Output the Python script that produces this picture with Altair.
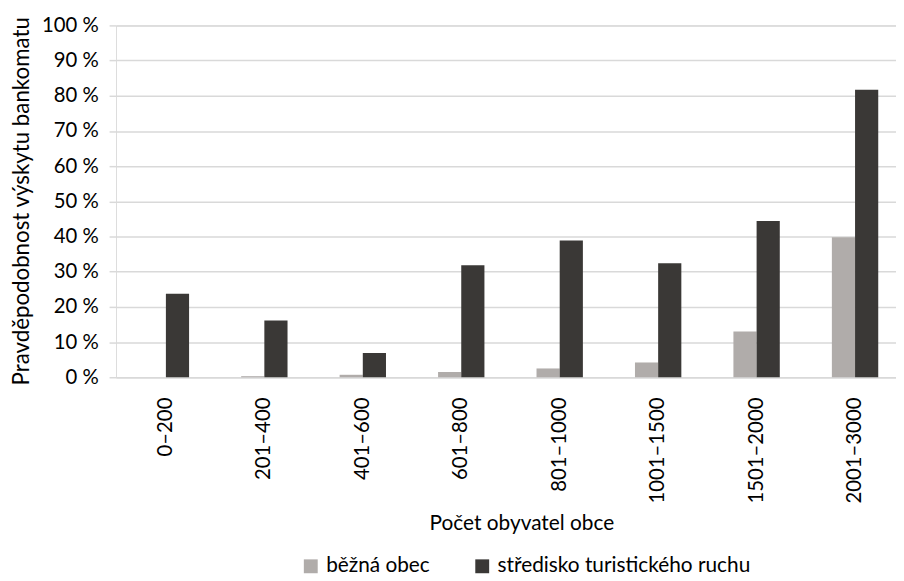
import altair as alt
import pandas as pd

categories = ["0–200", "201–400", "401–600", "601–800", "801–1000", "1001–1500", "1501–2000", "2001–3000"]
series = ["běžná obec", "středisko turistického ruchu"]
bezna = [0.0, 0.3, 0.7, 1.5, 2.5, 4.2, 13.0, 39.8]
stredisko = [23.7, 16.1, 6.9, 31.8, 38.9, 32.4, 44.4, 81.7]
colors = ["#B0ACAA", "#3A3836"]

rows = []
for c, a, b in zip(categories, bezna, stredisko):
    rows.append({"kat": c, "typ": series[0], "hodnota": a})
    rows.append({"kat": c, "typ": series[1], "hodnota": b})
df = pd.DataFrame(rows)

FONT = "Lato"
FS = 20.5
TS = 21

chart = alt.Chart(df).mark_bar().encode(
    x=alt.X("kat:N", sort=categories,
            scale=alt.Scale(paddingInner=0.529, paddingOuter=0.271, range=[0, 796]),
            axis=alt.Axis(title="Počet obyvatel obce", labelAngle=270, labelPadding=20,
                          ticks=False, domainColor="#D9D9D9", domainWidth=1.5,
                          labelFont=FONT, labelFontSize=FS, labelColor="#000000",
                          titleFont=FONT, titleFontSize=TS, titleFontWeight="normal",
                          titleColor="#000000", titleX=409, titleY=154,
                          titleBaseline="alphabetic", titleAlign="center")),
    xOffset=alt.XOffset("typ:N", sort=series, scale=alt.Scale(paddingInner=0, paddingOuter=0)),
    y=alt.Y("hodnota:Q", scale=alt.Scale(domain=[0, 100], nice=False),
            axis=alt.Axis(title="Pravděpodobnost výskytu bankomatu",
                          values=[0, 10, 20, 30, 40, 50, 60, 70, 80, 90, 100],
                          labelExpr="datum.value + ' %'", domain=False,
                          tickColor="#D9D9D9", tickSize=7, tickWidth=1.5, labelPadding=11,
                          gridColor="#D9D9D9", gridWidth=1.5,
                          labelFont=FONT, labelFontSize=FS, labelColor="#000000",
                          titleFont=FONT, titleFontSize=22.5, titleFontWeight="normal",
                          titleColor="#000000", titleAngle=270, titleX=-95, titleY=177,
                          titleBaseline="middle", titleAlign="center")),
    color=alt.Color("typ:N", sort=series,
                    scale=alt.Scale(domain=series, range=colors),
                    legend=alt.Legend(title=None, orient="none", direction="horizontal",
                                      legendX=186, legendY=535, symbolType="square",
                                      symbolSize=196, symbolStrokeWidth=0,
                                      labelFont=FONT, labelFontSize=TS, labelColor="#000000",
                                      labelLimit=0, labelOffset=5, columnPadding=42, padding=0)),
).properties(
    width=787, height=355,
    autosize=alt.AutoSizeParams(type="none"),
    padding={"left": 109, "top": 15, "right": 0, "bottom": 203},
).configure_view(stroke=None).configure(background="#FFFFFF")

chart.save("out.html", embed_options={"renderer": "svg", "actions": False})
